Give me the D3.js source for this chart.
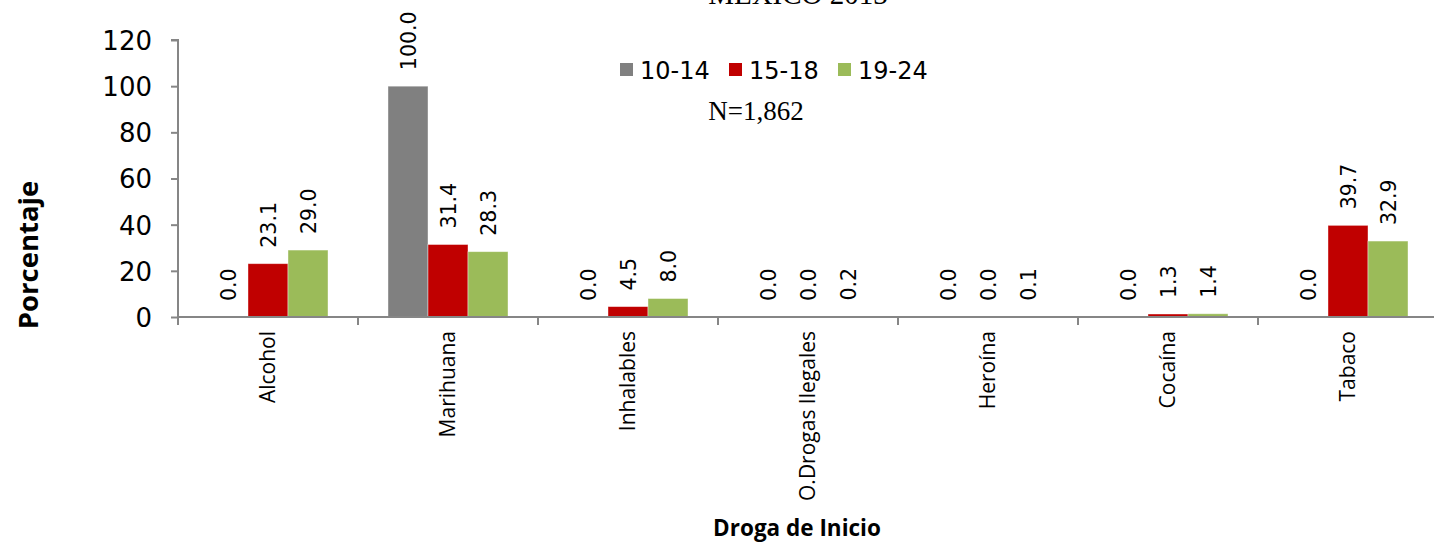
<!DOCTYPE html>
<html><head><meta charset="utf-8">
<script src="https://cdn.jsdelivr.net/npm/d3@7"></script>
<style>body{margin:0;background:#fff;overflow:hidden}</style>
</head><body>
<svg id="c" width="1434" height="544"></svg>
<script>
const categories = ["Alcohol","Marihuana","Inhalables","O.Drogas Ilegales","Heroína","Cocaína","Tabaco"];
const seriesNames = ["10-14","15-18","19-24"];
const s1014 = [0.0,100.0,0.0,0.0,0.0,0.0,0.0];
const s1518 = [23.1,31.4,4.5,0.0,0.0,1.3,39.7];
const s1924 = [29.0,28.3,8.0,0.2,0.1,1.4,32.9];
const colors = ["#808080","#C00000","#9BBB59"];
const yTicks = [0,20,40,60,80,100,120];
const title = "MÉXICO 2013";
const note = "N=1,862";
const yTitle = "Porcentaje";
const xTitle = "Droga de Inicio";

(function(){
const series = [s1014,s1518,s1924];
const svg = d3.select("#c");
const pl = 178, pr = 1438, pt = 40, pb = 317;
const x = d3.scaleBand().domain(categories).range([pl,pr]).paddingInner(0).paddingOuter(0);
const x1 = d3.scaleBand().domain(seriesNames).range([30, 150]);
const y = d3.scaleLinear().domain([0,120]).range([pb,pt]);
const axisColor = "#868686";
const sans = "'DejaVu Sans', Verdana, sans-serif";
const open = "'Open Sans', sans-serif";
const serif = "'Liberation Serif', 'DejaVu Serif', serif";

svg.append("text").attr("x",798).attr("y",4).attr("text-anchor","middle")
  .attr("font-family",serif).attr("font-size",29).text(title);

categories.forEach((c,i)=>{
  series.forEach((s,j)=>{
    const v = s[i];
    const bx = x(c)+x1(seriesNames[j]);
    if (v>0) svg.append("rect").attr("x",bx).attr("y",y(v)).attr("width",x1.bandwidth()).attr("height",y(0)-y(v))
      .attr("fill",colors[j]).attr("stroke","#fff").attr("stroke-opacity",0.5).attr("stroke-width",0.8);
    const cx = bx + x1.bandwidth()/2;
    const ty = y(v)-16;
    svg.append("text").attr("transform",`translate(${cx+7.5},${ty}) rotate(-90)`)
      .attr("font-family",sans).attr("font-size",20.5).attr("fill","#000").text(v.toFixed(1));
  });
});

const ya = svg.append("g").attr("transform",`translate(${pl},0)`)
  .call(d3.axisLeft(y).tickValues(yTicks).tickSize(7).tickPadding(19));
ya.select(".domain").attr("stroke",axisColor).attr("stroke-width",2).attr("d",`M-7,${pt}H0V${pb}`);
ya.selectAll(".tick line").attr("stroke",axisColor).attr("stroke-width",2);
ya.selectAll(".tick text").attr("font-family",sans).attr("font-size",26).attr("fill","#000").attr("dy","0.36em");

const xa = svg.append("g").attr("transform",`translate(0,${pb})`)
  .call(d3.axisBottom(x).tickSize(0).tickPadding(0));
xa.select(".domain").remove();
svg.append("line").attr("x1",pl).attr("x2",pr).attr("y1",pb).attr("y2",pb).attr("stroke",axisColor).attr("stroke-width",2);
const bounds = categories.map(c=>x(c)).concat([pr]);
svg.selectAll(".xt").data(bounds).enter().append("line")
  .attr("x1",d=>d).attr("x2",d=>d).attr("y1",pb).attr("y2",pb+8).attr("stroke",axisColor).attr("stroke-width",2);
xa.selectAll(".tick text")
  .attr("transform",`translate(0,14) rotate(-90)`)
  .attr("text-anchor","end").attr("dy","0.35em").attr("y",0).attr("x",0)
  .attr("font-family",open).attr("font-size",21).attr("fill","#000");

svg.append("text").attr("transform","translate(38,255) rotate(-90)").attr("text-anchor","middle")
  .attr("font-family",open).attr("font-weight","bold").attr("font-size",27.5).text(yTitle);
svg.append("text").attr("x",797).attr("y",536).attr("text-anchor","middle")
  .attr("font-family",open).attr("font-weight","bold").attr("font-size",22.5).text(xTitle);

const lx = [620,729,838];
seriesNames.forEach((n,j)=>{
  svg.append("rect").attr("x",lx[j]).attr("y",63).attr("width",13).attr("height",13).attr("fill",colors[j]);
  svg.append("text").attr("x",lx[j]+20).attr("y",79).attr("font-family",sans).attr("font-size",24).text(n);
});
svg.append("text").attr("x",756).attr("y",120).attr("text-anchor","middle")
  .attr("font-family",serif).attr("font-size",27).text(note);
})();
</script>
</body></html>
